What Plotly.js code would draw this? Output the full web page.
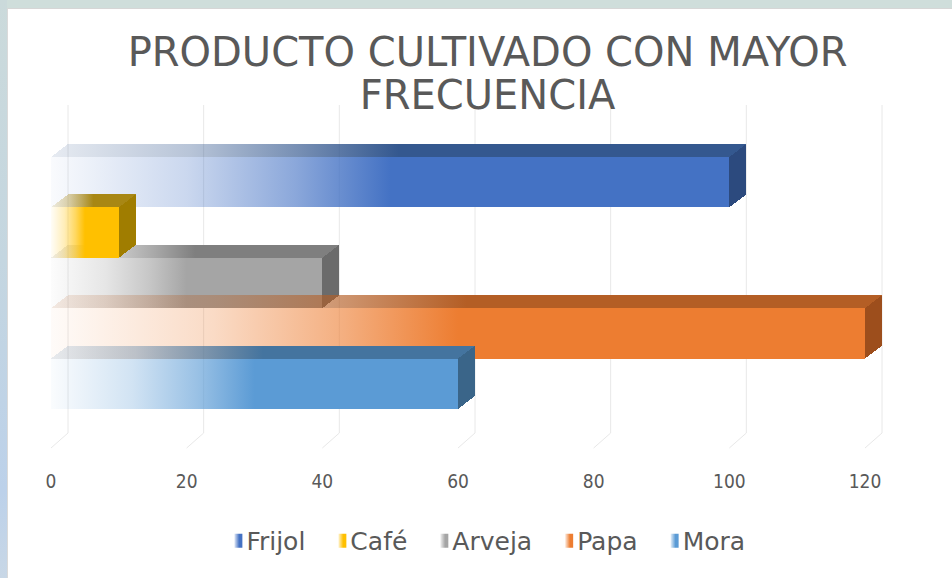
<!DOCTYPE html>
<html>
<head>
<meta charset="utf-8">
<script src="https://cdn.plot.ly/plotly-3.0.1.min.js"></script>
<style>
html,body{margin:0;padding:0;width:952px;height:578px;overflow:hidden;}
body{position:relative;background:#cfdedb;}
#frameLeft{position:absolute;left:0;top:0;width:7px;height:578px;
  background:linear-gradient(to bottom,#cbdadb 0%,#c4d6e0 45%,#bcd1ea 85%,#c8d7e6 100%);}
#chart{position:absolute;left:7px;top:8px;width:944px;height:569px;background:#ffffff;
  border-left:1px solid #dadada;border-top:1px solid #d6d6d6;}
</style>
</head>
<body>
<div id="frameLeft"></div>
<div id="chart"></div>
<script>
// ---- data ----
const categories = ['Frijol', 'Café', 'Arveja', 'Papa', 'Mora'];
const values = [100, 10, 40, 120, 60];
const tickValues = [0, 20, 40, 60, 80, 100, 120];
const tickLabels = ['0', '20', '40', '60', '80', '100', '120'];
const groupLabel = ['Cultivo'];

// ---- styles ----
const frontColors = ['#4472C4', '#FFC000', '#A5A5A5', '#ED7D31', '#5B9BD5'];
const topColors   = ['#34588F', '#A88714', '#7F7F7F', '#B45E25', '#44749F'];
const sideColors  = ['#2C4A7E', '#A07D00', '#6B6B6B', '#9D4E1C', '#3A6589'];
const drawOrder   = [0, 2, 1, 3, 4];
const depthX = 17, depthY = 13;

const W = 944, H = 569;
const M = {l: 43, r: 63, t: 96, b: 130};
const plotW = W - M.l - M.r;            // 838
const frontSpan = 814;                  // pixels for 0..120 on the front plane
const xMax = 120 * plotW / frontSpan;
const plotH = H - M.t - M.b;            // 343
const barTop = 148, barBottom = 400;    // div px of bar block
const backBottom = 424;
const yDomain = [(H - M.b - barBottom) / plotH, (H - M.b - barTop) / plotH];
const backBottomPaper = (H - M.b - backBottom) / plotH;

const traces = categories.map((name, i) => ({
  type: 'bar',
  orientation: 'h',
  name: name,
  x: [values[i]],
  y: groupLabel,
  marker: {color: frontColors[i], line: {width: 0}},
  hoverinfo: 'skip'
}));

const shapes = [];
tickValues.forEach(v => {
  shapes.push({type: 'line', layer: 'below', xref: 'x', yref: 'paper',
    xsizemode: 'pixel', xanchor: v, x0: depthX, x1: depthX,
    y0: backBottomPaper, y1: 1, line: {color: '#e8e8e8', width: 1}});
  shapes.push({type: 'line', layer: 'below', xref: 'x', yref: 'paper',
    xsizemode: 'pixel', xanchor: v, x0: 0, x1: depthX,
    y0: 0, y1: backBottomPaper, line: {color: '#e8e8e8', width: 1}});
});

const layout = {
  width: W, height: H,
  margin: M,
  paper_bgcolor: '#ffffff',
  plot_bgcolor: 'rgba(0,0,0,0)',
  showlegend: true,
  barmode: 'group',
  bargap: 0,
  bargroupgap: 0,
  hovermode: false,
  title: {
    text: 'PRODUCTO CULTIVADO CON MAYOR<br>FRECUENCIA',
    font: {family: 'DejaVu Sans', size: 40, color: '#595959'},
    xref: 'container', x: 0.508, xanchor: 'center',
    yref: 'container', y: 0.900, yanchor: 'top'
  },
  xaxis: {
    range: [0, xMax],
    tickvals: tickValues,
    ticktext: tickLabels,
    ticks: '',
    showgrid: false, zeroline: false, showline: false,
    anchor: 'free', position: 0,
    ticklabelstandoff: 20,
    tickfont: {family: 'DejaVu Sans Condensed', size: 19, color: '#595959'},
    fixedrange: true
  },
  yaxis: {
    type: 'category',
    range: [0.5, -0.5],
    domain: yDomain,
    showticklabels: false, showgrid: false, zeroline: false, showline: false,
    fixedrange: true
  },
  legend: {
    orientation: 'h',
    x: 0.51, xanchor: 'center',
    y: -0.271, yanchor: 'middle',
    font: {family: 'DejaVu Sans', size: 25, color: '#595959'},
    itemwidth: 30,
    traceorder: 'normal'
  },
  shapes: shapes
};

Plotly.newPlot('chart', traces, layout, {staticPlot: true, displayModeBar: false}).then(gd => {
  const NS = 'http://www.w3.org/2000/svg';
  const svg = gd.querySelector('svg.main-svg');
  let defs = svg.querySelector('defs');
  if (!defs) { defs = document.createElementNS(NS, 'defs'); svg.insertBefore(defs, svg.firstChild); }

  function grad(id, color, stops) {
    const g = document.createElementNS(NS, 'linearGradient');
    g.setAttribute('id', id);
    g.setAttribute('x1', '0'); g.setAttribute('y1', '0');
    g.setAttribute('x2', '1'); g.setAttribute('y2', '0');
    stops.forEach(s => {
      const st = document.createElementNS(NS, 'stop');
      st.setAttribute('offset', s[0]);
      st.setAttribute('stop-color', color);
      st.setAttribute('stop-opacity', s[1]);
      g.appendChild(st);
    });
    defs.appendChild(g);
  }
  const frontStops = [[0, 0.03], [0.2, 0.28], [0.36, 0.62], [0.5, 1], [1, 1]];
  const topStops = [[0, 0.12], [0.2, 0.35], [0.36, 0.68], [0.5, 1], [1, 1]];
  const legendStops = [[0, 0.15], [0.6, 1], [1, 1]];
  categories.forEach((c, i) => {
    grad('gf' + i, frontColors[i], frontStops);
    grad('gt' + i, topColors[i], topStops);
    grad('gl' + i, frontColors[i], legendStops);
  });

  gd.querySelectorAll('.cartesianlayer [clip-path]').forEach(el => el.removeAttribute('clip-path'));

  const barTraces = Array.from(gd.querySelectorAll('.barlayer .trace'));
  barTraces.forEach((tr, i) => {
    const p = tr.querySelector('.point path');
    if (!p) return;
    const b = p.getBBox();
    const x0 = b.x, x1 = b.x + b.width, y0 = b.y, y1 = b.y + b.height;
    p.style.fill = 'url(#gf' + i + ')';
    p.style.fillOpacity = 1;
    const top = document.createElementNS(NS, 'path');
    top.setAttribute('d', `M${x0},${y0}L${x0 + depthX},${y0 - depthY}L${x1 + depthX},${y0 - depthY}L${x1},${y0}Z`);
    top.style.fill = 'url(#gt' + i + ')';
    const side = document.createElementNS(NS, 'path');
    side.setAttribute('d', `M${x1},${y0}L${x1 + depthX},${y0 - depthY}L${x1 + depthX},${y1 - depthY}L${x1},${y1}Z`);
    side.style.fill = sideColors[i];
    p.parentNode.appendChild(top);
    p.parentNode.appendChild(side);
  });
  if (barTraces.length) {
    const parent = barTraces[0].parentNode;
    drawOrder.forEach(k => parent.appendChild(barTraces[k]));
  }

  // title line spacing
  const lines = gd.querySelectorAll('.gtitle tspan.line');
  lines.forEach((ln, k) => { if (k > 0) ln.setAttribute('dy', (1.07 * k) + 'em'); });

  // legend symbols
  gd.querySelectorAll('.legend .traces').forEach((tr, i) => {
    const p = tr.querySelector('.legendpoints path');
    const t = tr.querySelector('text');
    if (!p || !t) return;
    p.setAttribute('d', 'M4,7H-4V-7H4Z');
    p.style.fill = 'url(#gl' + i + ')';
    p.style.stroke = 'none';
    const pr = p.getBoundingClientRect(), trc = t.getBoundingClientRect();
    const dx = (trc.left - 4) - pr.right;
    const old = p.getAttribute('transform') || '';
    p.setAttribute('transform', old + ' translate(' + dx + ',0)');
  });
});
</script>
</body>
</html>
